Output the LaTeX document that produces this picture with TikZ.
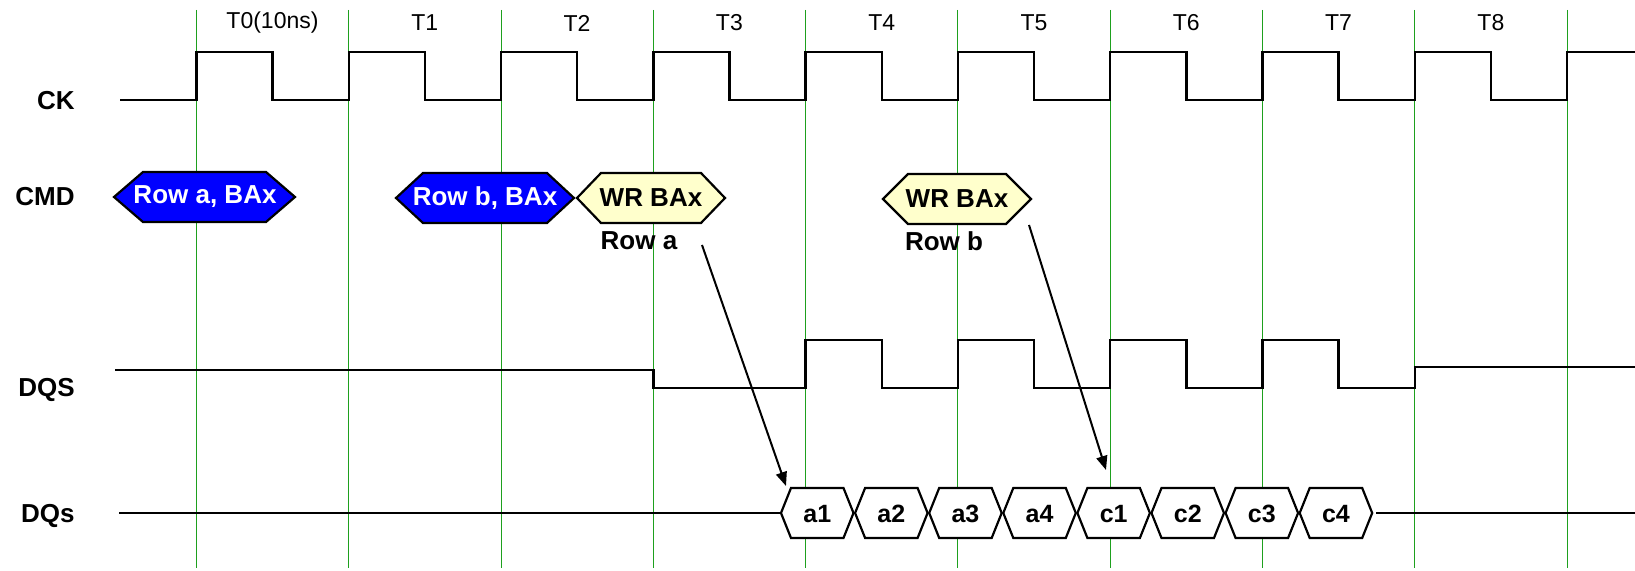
\documentclass[tikz,border=0pt]{standalone}
\usepackage{fontspec}
\setmainfont{Liberation Sans}
\usetikzlibrary{arrows.meta,calc}
\definecolor{gridgreen}{RGB}{30,160,30}
\definecolor{cmdblue}{RGB}{0,0,255}
\definecolor{wryellow}{RGB}{255,255,204}
% #1 style, #2 left tip x, #3 right tip x, #4 indent, #5 y centre, #6 half height
\newcommand{\hexshape}[6]{%
  \draw[#1] (#2,#5) -- ({#2+#4},{#5-#6}) -- ({#3-#4},{#5-#6}) -- (#3,#5)
     -- ({#3-#4},{#5+#6}) -- ({#2+#4},{#5+#6}) -- cycle;}
\begin{document}
\begin{tikzpicture}[x=0.5pt,y=-0.5pt,
  gridline/.style={gridgreen,line width=0.5pt},
  sig/.style={black,line width=1.2pt},
  siglabel/.style={anchor=east,inner sep=0pt,font=\fontsize{13}{15}\selectfont\bfseries},
  timelabel/.style={inner sep=0pt,font=\fontsize{11.5}{13}\selectfont},
  cmdblu/.style={draw=black,fill=cmdblue,line width=1.1pt,line join=miter},
  cmdyel/.style={draw=black,fill=wryellow,line width=1.1pt,line join=miter},
  hexw/.style={draw=black,fill=white,line width=1.1pt,line join=miter},
  cmdtext/.style={inner sep=0pt,font=\fontsize{13}{15}\selectfont\bfseries},
  dqtext/.style={inner sep=0pt,font=\fontsize{12.5}{15}\selectfont\bfseries},
  arr/.style={black,line width=1pt,-{Triangle[length=7pt,width=5.5pt]}}]
\useasboundingbox (0,0) rectangle (1635,571);

% grid lines
\foreach \k in {0,...,9}
  \draw[gridline] ({196.4+152.3*\k},10) -- ({196.4+152.3*\k},568);

% time labels
\foreach \lab [count=\k from 0] in {T0(10ns),T1,T2,T3,T4,T5,T6,T7,T8}
  \node[timelabel] (t\k) at ({272.5+152.3*\k},23) {\lab};

% signal labels
\node[siglabel] (ck)  at (75,101) {CK};
\node[siglabel] (cmd) at (75,197) {CMD};
\node[siglabel] (dqs) at (75,390) {DQS};
\node[siglabel] (dqs2) at (75,516) {DQs};

% CK
\draw[sig] (120,100) foreach \k in {0,...,8} {
    -- ({196.4+152.3*\k},100) -- ({196.4+152.3*\k},52)
    -- ({272.55+152.3*\k},52) -- ({272.55+152.3*\k},100) }
  -- (1567.1,100) -- (1567.1,52) -- (1635,52);

% CMD
\hexshape{cmdblu}{114}{295}{29}{197}{25}
\node[cmdtext,white] (rowa) at (205,197) {Row a, BAx};
\hexshape{cmdblu}{396}{574}{27}{198}{25}
\node[cmdtext,white] (rowb) at (485,198) {Row b, BAx};
\hexshape{cmdyel}{577}{725}{24}{198}{25}
\node[cmdtext] (wra) at (651,198) {WR BAx};
\hexshape{cmdyel}{883}{1031}{25}{199}{25}
\node[cmdtext] (wrb) at (957,199) {WR BAx};
\node[cmdtext] (rowalab) at (639,241) {Row a};
\node[cmdtext] (rowblab) at (944,241) {Row b};

% DQS
\draw[sig] (115,370) -- (653.3,370) -- (653.3,388)
  foreach \k in {4,...,7} {
    -- ({196.4+152.3*\k},388) -- ({196.4+152.3*\k},340)
    -- ({272.55+152.3*\k},340) -- ({272.55+152.3*\k},388) }
  -- (1414.8,388) -- (1414.8,367) -- (1635,367);

% DQs
\draw[sig] (119,513) -- (781,513);
\foreach \lab [count=\i from 0] in {a1,a2,a3,a4,c1,c2,c3,c4} {
  \pgfmathsetmacro\lx{781+74.1*\i}
  \hexshape{hexw}{\lx}{\lx+72.5}{10}{513}{25}
  \node[dqtext] (\lab) at ({\lx+36.25},514) {\lab};
}
\draw[sig] (1376,513) -- (1635,513);

% arrows
\coordinate (arrAs) at (702,245);
\coordinate (arrAe) at (786,486);
\coordinate (arrBs) at (1029,225);
\coordinate (arrBe) at (1106,470);
\draw[arr] (arrAs) -- (arrAe);
\draw[arr] (arrBs) -- (arrBe);
\end{tikzpicture}
\end{document}
